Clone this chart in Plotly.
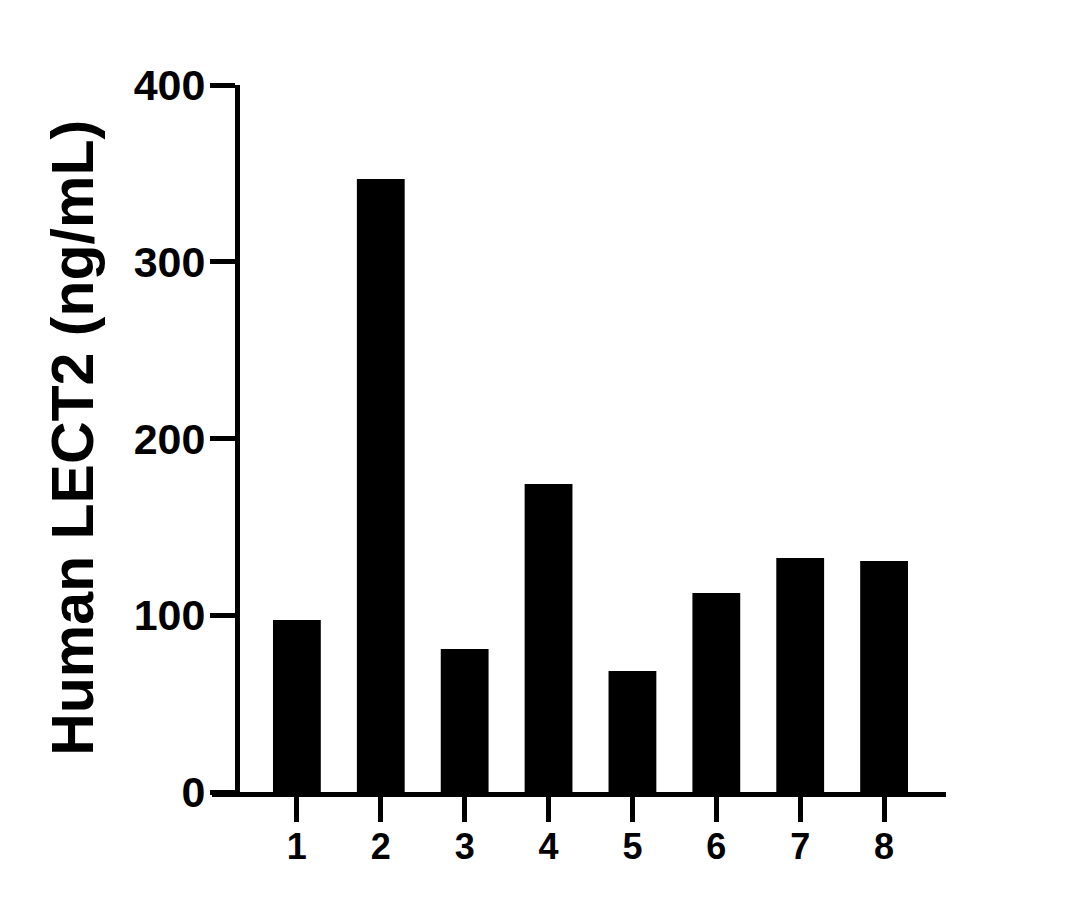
import plotly.graph_objects as go

# Datos
muestras = ['1', '2', '3', '4', '5', '6', '7', '8']
lect2 = [97.3, 346.8, 80.9, 174.3, 68.5, 112.6, 132.4, 130.7]
y_ticks = [0, 100, 200, 300, 400]

FUENTE = 'Liberation Sans, Arial, sans-serif'

fig = go.Figure()
fig.add_trace(go.Bar(
    x=muestras,
    y=lect2,
    width=0.57,
    marker=dict(color='black', line=dict(width=0)),
))

fig.update_layout(
    width=1079,
    height=909,
    plot_bgcolor='white',
    paper_bgcolor='white',
    showlegend=False,
    margin=dict(l=204, r=141, t=77, b=125),
    font=dict(family=FUENTE, color='black'),
)

fig.update_xaxes(
    type='category',
    range=[-1.012, 7.738],
    showline=True, linecolor='black', linewidth=5,
    ticks='outside', ticklen=25, tickwidth=5, tickcolor='black',
    tickfont=dict(family=FUENTE, size=36, color='black', weight='bold'),
    ticklabelstandoff=-6,
    showgrid=False, zeroline=False,
)

fig.update_yaxes(
    range=[0, 400],
    tickvals=y_ticks,
    anchor='free', position=(237 - 212) / 734,
    showline=True, linecolor='black', linewidth=5,
    ticks='outside', ticklen=25, tickwidth=5, tickcolor='black',
    tickfont=dict(family=FUENTE, size=43, color='black', weight='bold'),
    ticklabelstandoff=-4,
    showgrid=False, zeroline=False,
)

# Título del eje Y
fig.add_annotation(
    text='Human LECT2 (ng/mL)',
    xref='paper', yref='paper',
    x=(73 - 212) / 734, y=0.501,
    xanchor='center', yanchor='middle',
    textangle=-90, showarrow=False,
    font=dict(family=FUENTE, size=59, color='black', weight='bold'),
)

fig.write_html('out.html')
